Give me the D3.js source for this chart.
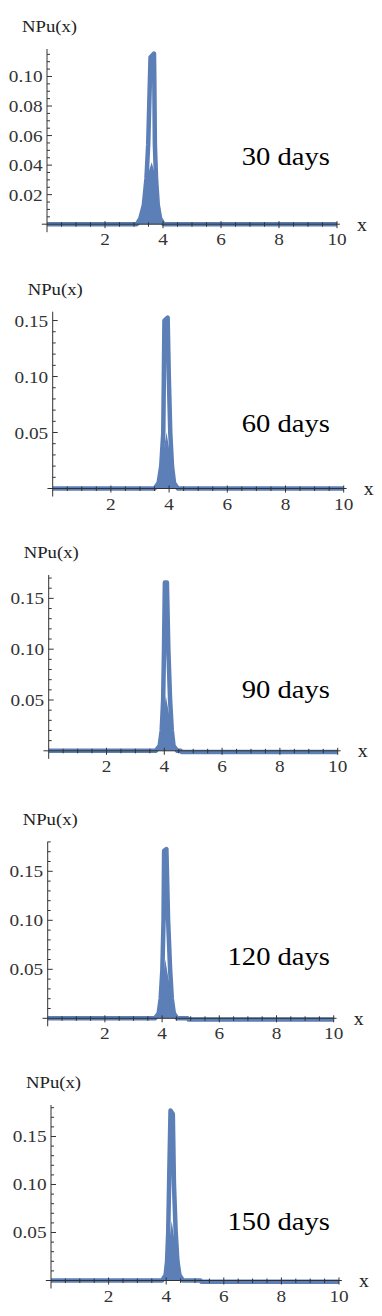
<!DOCTYPE html>
<html><head><meta charset="utf-8">
<script src="https://cdn.jsdelivr.net/npm/d3@7"></script>
<style>body{margin:0;background:#fff}svg{display:block}</style>
</head><body>
<svg id="c" width="382" height="1316"></svg>
<script>
// ---------- data ----------
const panelLabels = ["30 days", "60 days", "90 days", "120 days", "150 days"];
const xTickLabels = [2, 4, 6, 8, 10];
const yTickLabels30 = [0.02, 0.04, 0.06, 0.08, 0.10];
const yTickLabelsLater = [0.05, 0.10, 0.15];

// main NPu(x) curve for each time
const mainX30  = [0, 3.1, 3.22, 3.34, 3.43, 3.49, 3.55, 3.57, 3.69, 3.70, 3.72, 3.76, 3.82, 3.90, 4.02, 10];
const mainY30  = [0, 0, 0.004, 0.013, 0.031, 0.054, 0.099, 0.113, 0.1155, 0.099, 0.054, 0.031, 0.013, 0.004, 0, 0];
const mainX60  = [0, 3.5, 3.64, 3.73, 3.80, 3.82, 3.84, 3.95, 3.99, 4.04, 4.10, 4.17, 4.3, 10];
const mainY60  = [0, 0, 0.005, 0.02, 0.05, 0.10, 0.150, 0.1527, 0.10, 0.05, 0.02, 0.005, 0, 0];
const mainX90  = [0, 3.7, 3.84, 3.91, 3.96, 3.99, 4.02, 4.09, 4.14, 4.20, 4.26, 4.32, 4.45, 4.57, 4.6, 10];
const mainY90  = [0, 0, 0.005, 0.02, 0.05, 0.10, 0.1657, 0.1657, 0.10, 0.05, 0.02, 0.005, 0, 0, -0.0013, -0.0013];
const mainX120 = [0, 3.75, 3.88, 3.95, 4.01, 4.05, 4.07, 4.15, 4.21, 4.28, 4.34, 4.41, 4.53, 4.89, 4.92, 10];
const mainY120 = [0, 0, 0.005, 0.02, 0.05, 0.10, 0.171, 0.1727, 0.10, 0.05, 0.02, 0.005, 0, 0, -0.0013, -0.0013];
const mainX150 = [0, 3.86, 3.98, 4.03, 4.07, 4.10, 4.15, 4.23, 4.27, 4.33, 4.39, 4.46, 4.58, 5.19, 5.22, 10];
const mainY150 = [0, 0, 0.0057, 0.02, 0.05, 0.10, 0.177, 0.1734, 0.10, 0.05, 0.02, 0.0057, 0, 0, -0.0013, -0.0013];

// inner (lower) peak for each time
const innerX30  = [3.1, 3.22, 3.34, 3.43, 3.61, 3.76, 3.82, 3.90, 4.02];
const innerY30  = [0, 0.004, 0.013, 0.031, 0.042, 0.031, 0.013, 0.004, 0];
const innerX60  = [3.5, 3.64, 3.73, 3.91, 4.10, 4.17, 4.3];
const innerY60  = [0, 0.005, 0.02, 0.05, 0.02, 0.005, 0];
const innerX90  = [3.7, 3.84, 3.91, 4.055, 4.26, 4.32, 4.45];
const innerY90  = [0, 0.005, 0.02, 0.054, 0.02, 0.005, 0];
const innerX120 = [3.75, 3.88, 3.95, 4.11, 4.34, 4.41, 4.53];
const innerY120 = [0, 0.005, 0.02, 0.06, 0.02, 0.005, 0];
const innerX150 = [3.86, 3.98, 4.03, 4.19, 4.39, 4.46, 4.58];
const innerY150 = [0, 0.0057, 0.02, 0.062, 0.02, 0.0057, 0];

const mainXs = [mainX30, mainX60, mainX90, mainX120, mainX150];
const mainYs = [mainY30, mainY60, mainY90, mainY120, mainY150];
const innerXs = [innerX30, innerX60, innerX90, innerX120, innerX150];
const innerYs = [innerY30, innerY60, innerY90, innerY120, innerY150];
const yTickSets = [yTickLabels30, yTickLabelsLater, yTickLabelsLater, yTickLabelsLater, yTickLabelsLater];
const yMinorSteps = [0.005, 0.01, 0.01, 0.01, 0.01];
const yMaxes = [0.1186, 0.1579, 0.173, 0.1802, 0.1828];

// ---------- layout ----------
const layouts = [
  {x0: 47,   x10: 337,   y0: 224.2,  yTop: 49,    labelY: 165},
  {x0: 52.7, x10: 343.7, y0: 488.5,  yTop: 311.7, labelY: 431.7},
  {x0: 48.7, x10: 337.7, y0: 750.8,  yTop: 575,   labelY: 698},
  {x0: 47.7, x10: 333.7, y0: 1018.3, yTop: 841.7, labelY: 965},
  {x0: 51,   x10: 339,   y0: 1280.5, yTop: 1105,  labelY: 1230}
];
const blue = "#5b7fb6";
const axisCol = "#333";
const font = "'Liberation Serif','Times New Roman',serif";
const sx = 1.1;

const svg = d3.select("#c");

layouts.forEach((L, i) => {
  const g = svg.append("g");
  const x = d3.scaleLinear().domain([0, 10]).range([L.x0, L.x10]);
  const y = d3.scaleLinear().domain([0, yMaxes[i]]).range([L.y0, L.yTop]);

  const mainPts = mainXs[i].map((v, k) => [v, mainYs[i][k]]);
  const innerPts = innerXs[i].map((v, k) => [v, innerYs[i][k]]);

  const line = d3.line().x(d => x(d[0])).y(d => y(d[1]));
  const area = d3.area().x(d => x(d[0])).y0(y(0)).y1(d => y(d[1]));

  g.append("path").attr("d", area(innerPts)).attr("fill", blue);
  g.append("path").attr("d", line(mainPts)).attr("fill", "none")
    .attr("stroke", blue).attr("stroke-width", 4.5).attr("stroke-linejoin", "round")
    .attr("stroke-linecap", "butt");

  // axes
  g.append("line").attr("x1", x(-0.18)).attr("x2", x(10.1)).attr("y1", y(0)).attr("y2", y(0))
    .attr("stroke", axisCol).attr("stroke-width", 1);
  g.append("line").attr("x1", x(0)).attr("x2", x(0)).attr("y1", y(yMaxes[i])).attr("y2", y(0) + 8)
    .attr("stroke", axisCol).attr("stroke-width", 1);

  // x ticks
  d3.range(0.5, 10.01, 0.5).forEach(v => {
    const major = Math.abs(v / 2 - Math.round(v / 2)) < 1e-6;
    g.append("line").attr("x1", x(v)).attr("x2", x(v))
      .attr("y1", y(0) - (major ? 3 : 2)).attr("y2", y(0) + (major ? 4 : 2.5))
      .attr("stroke", axisCol).attr("stroke-width", 1);
  });
  // y ticks
  const st = yMinorSteps[i];
  d3.range(st, yMaxes[i], st).forEach(v => {
    const major = yTickSets[i].some(t => Math.abs(t - v) < 1e-6);
    g.append("line").attr("x1", x(0)).attr("x2", x(0) + (major ? 5 : 3))
      .attr("y1", y(v)).attr("y2", y(v))
      .attr("stroke", axisCol).attr("stroke-width", 1);
  });

  // tick labels
  xTickLabels.forEach(v => {
    g.append("text").attr("transform", `translate(${x(v)},${y(0) + 21}) scale(${sx},1)`)
      .attr("text-anchor", "middle").attr("font-family", font).attr("font-size", 17.5)
      .attr("fill", "#333").text(v);
  });
  yTickSets[i].forEach(v => {
    g.append("text").attr("transform", `translate(${x(0) - 4.5},${y(v) + 6}) scale(${sx},1)`)
      .attr("text-anchor", "end").attr("font-family", font).attr("font-size", 17.5)
      .attr("fill", "#333").text(d3.format(".2f")(v));
  });

  // axis labels
  g.append("text").attr("transform", `translate(${x(0) - 25},${y(yMaxes[i]) - 16.7}) scale(${sx},1)`)
    .attr("font-family", font).attr("font-size", 17).attr("fill", "#222").text("NPu(x)");
  g.append("text").attr("transform", `translate(${x(10) + 20},${y(0) + 6.5}) scale(${sx},1)`)
    .attr("font-family", font).attr("font-size", 18).attr("fill", "#222").text("x");

  // time label
  g.append("text").attr("transform", `translate(330,${L.labelY}) scale(${sx},1)`)
    .attr("text-anchor", "end").attr("font-family", font).attr("font-size", 26)
    .attr("fill", "#000").text(panelLabels[i]);
});
</script>
</body></html>
